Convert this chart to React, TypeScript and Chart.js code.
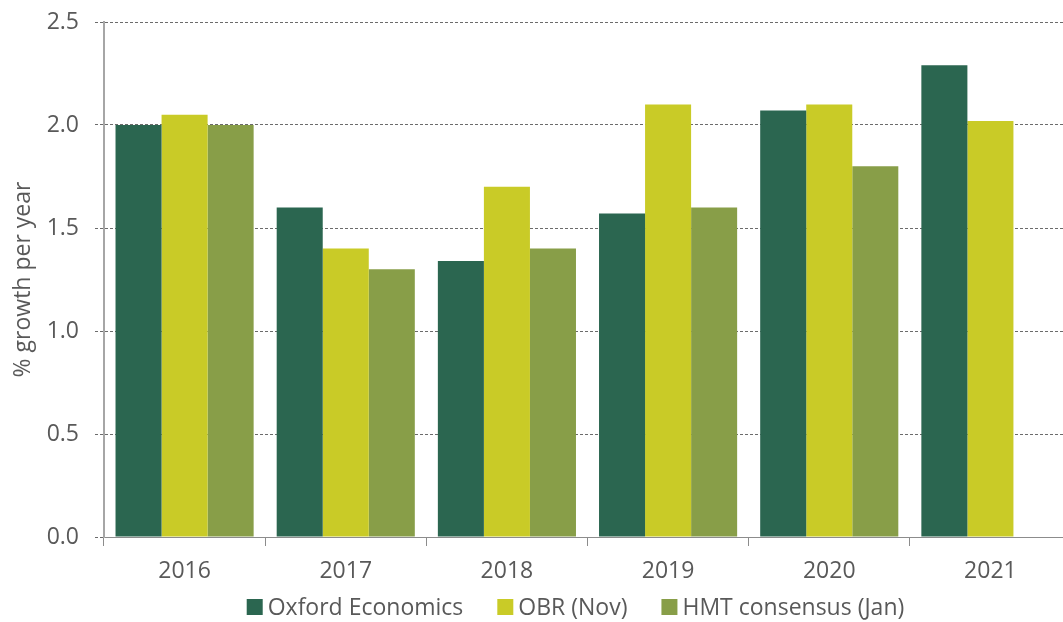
import React, { useEffect, useRef } from "react";
import { Chart, registerables } from "chart.js";

Chart.register(...registerables);

const years = ["2016", "2017", "2018", "2019", "2020", "2021"];
const oxfordEconomics = [2.0, 1.6, 1.34, 1.57, 2.07, 2.29];
const obrNov = [2.05, 1.4, 1.7, 2.1, 2.1, 2.02];
const hmtConsensusJan = [2.0, 1.3, 1.4, 1.6, 1.8, null];
const seriesNames = ["Oxford Economics", "OBR (Nov)", "HMT consensus (Jan)"];
const seriesColors = ["#2b6650", "#c9cb27", "#889e48"];
const yMin = 0;
const yMax = 2.5;
const yStep = 0.5;
const yTitle = "% growth per year";

const FONT_FAMILY = '"Open Sans", "Noto Sans", sans-serif';
const FONT_SIZE = 23;
const TEXT_COLOR = "#595959";

const legendPlugin = {
  id: "customLegend",
  afterDraw(chart: any) {
    const ctx = chart.ctx as CanvasRenderingContext2D;
    ctx.save();
    ctx.font = `${FONT_SIZE}px ${FONT_FAMILY}`;
    ctx.textBaseline = "middle";
    ctx.textAlign = "left";
    const box = 16;
    const gapText = 5;
    const gapItem = 34;
    const items = chart.data.datasets.map((ds: any) => ({
      label: ds.label as string,
      color: ds.backgroundColor as string,
      w: ctx.measureText(ds.label).width,
    }));
    const total =
      items.reduce((s: number, it: any) => s + box + gapText + it.w, 0) +
      gapItem * (items.length - 1);
    const cx = (chart.chartArea.left + chart.chartArea.right) / 2 - 12;
    let x = cx - total / 2;
    const y = chart.height - 15;
    for (const it of items) {
      ctx.fillStyle = it.color;
      ctx.fillRect(x, y - box / 2, box, box);
      ctx.fillStyle = TEXT_COLOR;
      ctx.fillText(it.label, x + box + gapText, y + 1);
      x += box + gapText + it.w + gapItem;
    }
    ctx.restore();
  },
};

export default function App() {
  const canvasRef = useRef<HTMLCanvasElement | null>(null);

  useEffect(() => {
    if (!canvasRef.current) return;
    Chart.defaults.font.family = FONT_FAMILY;
    Chart.defaults.font.size = FONT_SIZE;
    Chart.defaults.color = TEXT_COLOR;
    const chart = new Chart(canvasRef.current, {
      type: "bar",
      data: {
        labels: years,
        datasets: [
          { label: seriesNames[0], data: oxfordEconomics, backgroundColor: seriesColors[0] },
          { label: seriesNames[1], data: obrNov, backgroundColor: seriesColors[1] },
          { label: seriesNames[2], data: hmtConsensusJan as any, backgroundColor: seriesColors[2] },
        ].map((d) => ({ ...d, borderWidth: 0, categoryPercentage: 0.857, barPercentage: 1.0 })),
      },
      options: {
        animation: false,
        responsive: false,
        devicePixelRatio: 1,
        layout: { padding: { left: 10, top: 22, right: 0, bottom: 36 } },
        plugins: {
          legend: { display: false },
          tooltip: { enabled: false },
        },
        scales: {
          x: {
            offset: true,
            grid: {
              offset: true,
              drawOnChartArea: false,
              drawTicks: true,
              tickLength: 9,
              color: "#8c8c8c",
              lineWidth: 1,
            },
            border: { display: true, color: "#8c8c8c", width: 1 },
            ticks: { padding: 12, color: TEXT_COLOR, font: { size: FONT_SIZE } },
            afterFit: (scale: any) => {
              scale.height = 49;
              scale.paddingLeft = 0;
              scale.paddingRight = 0;
            },
          },
          y: {
            min: yMin,
            max: yMax,
            ticks: {
              stepSize: yStep,
              padding: 16,
              color: TEXT_COLOR,
              font: { size: FONT_SIZE },
              callback: (v: any) => Number(v).toFixed(1),
            },
            grid: {
              color: (c: any) => (c.tick && c.tick.value === 0 ? "rgba(0,0,0,0)" : "#6b6b6b"),
              lineWidth: 1,
              drawTicks: true,
              tickLength: 9,
              tickColor: "#6b6b6b",
              tickBorderDash: [3, 2],
            } as any,
            border: { display: true, color: "#a6a6a6", width: 2, dash: [3, 2] } as any,
            title: {
              display: true,
              text: yTitle,
              color: TEXT_COLOR,
              font: { size: FONT_SIZE },
              padding: { top: 0, bottom: 8 },
            },
            afterFit: (scale: any) => {
              scale.width = 94;
              scale.paddingTop = 0;
              scale.paddingBottom = 0;
            },
          },
        },
      },
      plugins: [legendPlugin],
    });
    return () => chart.destroy();
  }, []);

  return (
    <div
      style={{
        position: "absolute",
        left: 0,
        top: 0,
        width: 1063,
        height: 622,
        overflow: "hidden",
        background: "#fff",
      }}
    >
      <canvas ref={canvasRef} width={1071} height={622} style={{ display: "block" }} />
    </div>
  );
}
